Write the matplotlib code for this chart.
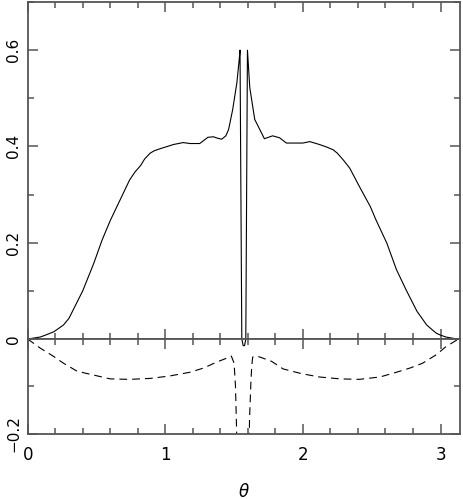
import numpy as np
import matplotlib
matplotlib.use("Agg")
import matplotlib.pyplot as plt
from matplotlib.ticker import MultipleLocator

# solid curve (upper panel)
solid_x = [0.00, 0.09, 0.12, 0.19, 0.22, 0.26, 0.30, 0.33, 0.40, 0.48, 0.54, 0.60, 0.67,
           0.74, 0.78, 0.82, 0.85, 0.89, 0.92, 0.96, 1.06, 1.13, 1.18, 1.25, 1.31, 1.35,
           1.38, 1.41, 1.44, 1.46, 1.49, 1.52, 1.537, 1.543, 1.556, 1.566, 1.576, 1.585,
           1.597, 1.614, 1.65, 1.687, 1.72, 1.78, 1.83, 1.88, 2.00, 2.05, 2.12, 2.17,
           2.22, 2.25, 2.29, 2.31, 2.34, 2.41, 2.49, 2.53, 2.61, 2.68, 2.75, 2.83, 2.90,
           2.94, 2.97, 3.00, 3.04, 3.12, 3.14]
solid_y = [0.000, 0.004, 0.007, 0.015, 0.021, 0.029, 0.043, 0.060, 0.100, 0.157, 0.205, 0.246, 0.288,
           0.330, 0.347, 0.360, 0.374, 0.386, 0.391, 0.395, 0.404, 0.408, 0.406, 0.406, 0.419, 0.420,
           0.417, 0.415, 0.422, 0.435, 0.477, 0.532, 0.580, 0.600, 0.000, -0.014, -0.014, 0.000,
           0.600, 0.522, 0.456, 0.435, 0.416, 0.422, 0.418, 0.407, 0.407, 0.410, 0.404, 0.399,
           0.393, 0.386, 0.373, 0.366, 0.355, 0.317, 0.275, 0.248, 0.199, 0.144, 0.102, 0.057, 0.029,
           0.019, 0.012, 0.008, 0.004, 0.000, 0.000]

# dashed curve (lower panel)
dash_x = [0.00, 0.09, 0.19, 0.26, 0.36, 0.45, 0.60, 0.74, 0.89, 1.03, 1.18, 1.28,
          1.37, 1.45, 1.48, 1.50, 1.51, 1.518, 1.524, 1.607, 1.612, 1.622, 1.628,
          1.635, 1.66, 1.687, 1.772, 1.856, 1.99, 2.12, 2.27, 2.41, 2.56, 2.68,
          2.78, 2.87, 2.97, 3.04, 3.12, 3.14]
dash_y = [0.000, -0.019, -0.037, -0.051, -0.068, -0.074, -0.084, -0.085, -0.083, -0.078, -0.070, -0.061,
          -0.049, -0.040, -0.036, -0.051, -0.099, -0.190, -0.300, -0.300, -0.170, -0.092, -0.058,
          -0.038, -0.036, -0.038, -0.047, -0.063, -0.073, -0.080, -0.084, -0.085, -0.080, -0.070,
          -0.061, -0.051, -0.033, -0.016, -0.002, 0.000]

top_ticks = [0, 0.2, 0.4, 0.6]
top_labels = ["0", "0.2", "0.4", "0.6"]
bot_ticks = [-0.2, 0]
bot_labels = ["\u22120.2", ""]
x_ticks = [0, 1, 2, 3]
x_labels = ["0", "1", "2", "3"]

SPINE = "#555555"
FS = 12

fig = plt.figure(figsize=(4.63, 4.99), dpi=100)
gs = fig.add_gridspec(2, 1, height_ratios=[337, 95], hspace=0,
                      left=0.0598, right=0.9935, top=0.996, bottom=0.1303)
ax1 = fig.add_subplot(gs[0])
ax2 = fig.add_subplot(gs[1], sharex=ax1)

for ax in (ax1, ax2):
    ax.plot(solid_x, solid_y, color="black", lw=0.8)
    ax.plot(dash_x, dash_y, color="black", lw=0.8, dashes=(7, 4.5))
    ax.set_xlim(0, np.pi)
    ax.xaxis.set_major_locator(MultipleLocator(1))
    ax.xaxis.set_minor_locator(MultipleLocator(0.2))
    ax.yaxis.set_minor_locator(MultipleLocator(0.1))
    ax.tick_params(which="both", direction="in", top=True, right=True,
                   color=SPINE, width=1.1)
    ax.tick_params(axis="x", labelsize=FS, pad=9)
    ax.tick_params(axis="y", labelsize=11, pad=4.5)
    ax.tick_params(which="major", length=7)
    ax.tick_params(which="minor", length=4.5)
    for sp in ax.spines.values():
        sp.set_color(SPINE)
        sp.set_linewidth(1.3)

ax1.set_ylim(0, 0.7)
ax1.set_yticks(top_ticks)
ax1.set_yticklabels(top_labels, rotation=90, va="center")
ax1.tick_params(labelbottom=False)

ax2.set_ylim(-0.2, 0)
ax2.set_yticks(bot_ticks)
ax2.set_yticklabels(bot_labels, rotation=90, va="center")
ax2.set_xticks(x_ticks)
ax2.set_xticklabels(x_labels)
ax2.set_xlabel(r"$\theta$", fontsize=FS, labelpad=13)

plt.savefig("out.png", dpi=100, facecolor="white")
plt.close()
